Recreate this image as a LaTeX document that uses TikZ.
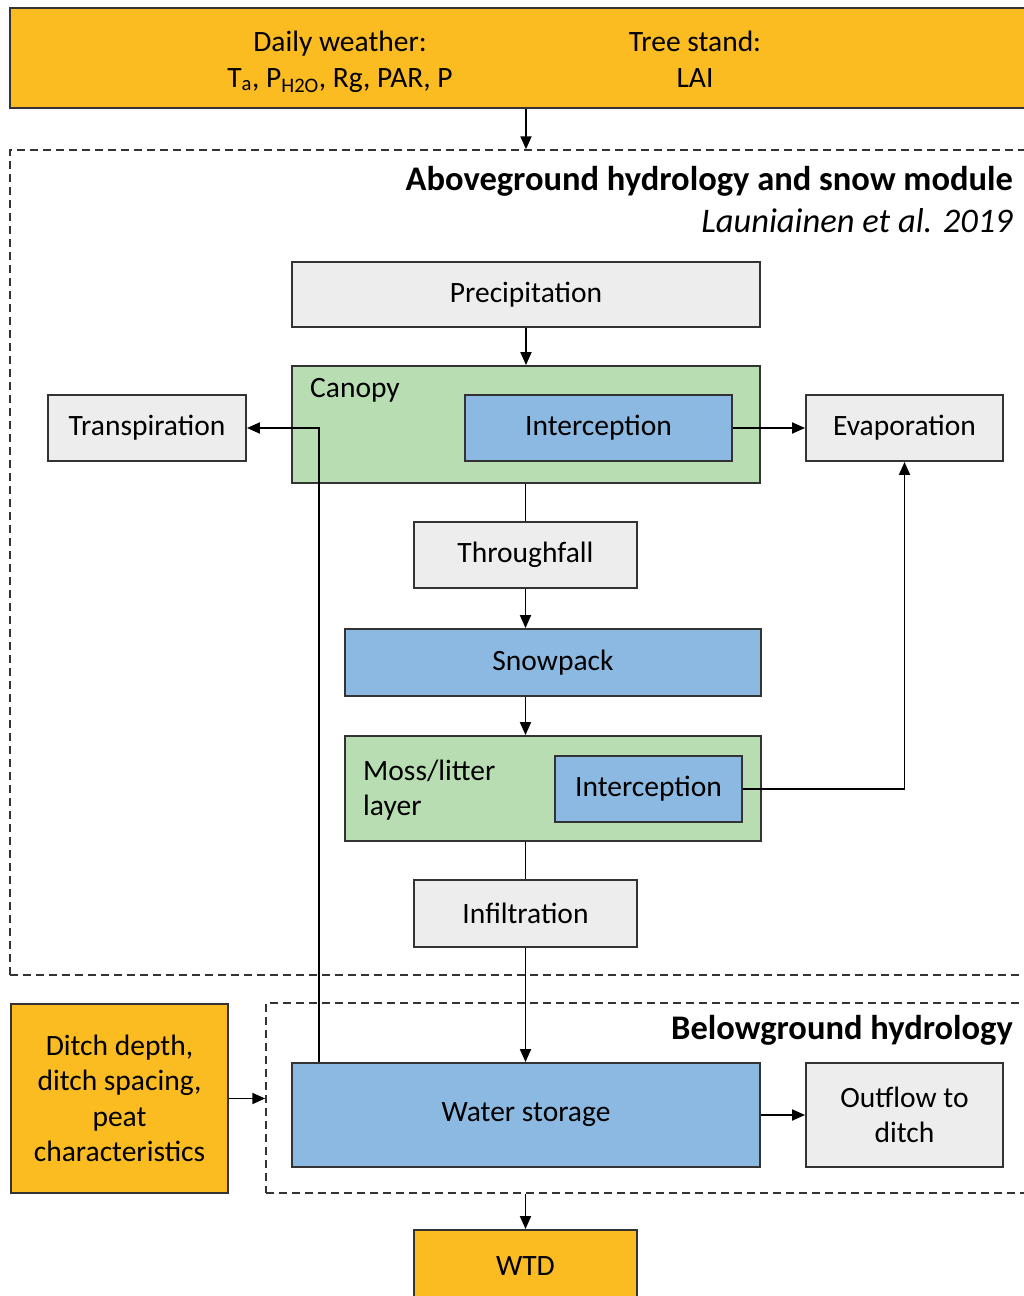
\documentclass[tikz,border=0pt]{standalone}
\usepackage{fontspec}
\setmainfont{Carlito}
\usetikzlibrary{arrows.meta,positioning}
\definecolor{inp}{HTML}{FBBC22}
\definecolor{flx}{HTML}{EDEDED}
\definecolor{lay}{HTML}{B8DDB3}
\definecolor{sto}{HTML}{8BB9E1}
\tikzset{
  box/.style={draw=black!80,line width=1.9pt,inner sep=0pt,align=center,font=\fontsize{29.5}{35.5}\selectfont},
  fluxbox/.style={box,fill=flx},
  layerbox/.style={box,fill=lay},
  storebox/.style={box,fill=sto},
  inputbox/.style={box,fill=inp},
  modbox/.style={draw=black!80,line width=1.5pt,dash pattern=on 8pt off 5pt,inner sep=0pt},
  arr/.style={-{Triangle[length=13pt,width=11pt]},line width=1.9pt},
  ln/.style={line width=1.9pt},
  lbl/.style={inner sep=0pt,font=\fontsize{29.5}{35.5}\selectfont},
  ttlbold/.style={inner sep=0pt,anchor=east,font=\fontsize{34.5}{40}\selectfont\bfseries},
  ttlital/.style={inner sep=0pt,anchor=east,font=\fontsize{34.5}{40}\selectfont\itshape},
}

\begin{document}
\begin{tikzpicture}[x=1pt,y=-1pt]
\useasboundingbox (0,0) rectangle (1024,1296);
\clip (0,0) rectangle (1024,1296);

% inputs on top
\node[inputbox,minimum width=1020pt,minimum height=100pt] (top) at (520,58) {};
\node[lbl,align=center,anchor=north] (weather) at (340,31) {Daily weather:\\T\textsubscript{a}, P\textsubscript{H2O}, Rg, PAR, P};
\node[lbl,align=center,anchor=north] (stand) at (695,31) {Tree stand:\\LAI};

% module frames
\node[modbox,minimum width=1025pt,minimum height=825pt] (above) at (522.5,562.5) {};
\node[modbox,minimum width=769pt,minimum height=190pt] (below) at (650.5,1098) {};
\node[ttlbold] (abovettl) at (1013,181) {Aboveground hydrology and snow module};
\node[ttlital] (aboveref) at (1013,221) {Launiainen et al. 2019};
\node[ttlbold] (belowttl) at (1013,1030) {Belowground hydrology};

% aboveground
\node[fluxbox,minimum width=468pt,minimum height=65pt] (prec) at (526,294.5) {Precipitation};
\node[layerbox,minimum width=468pt,minimum height=117pt] (canopy) at (526,424.5) {};
\node[lbl,anchor=west] (canopylbl) at (310,390) {Canopy};
\node[storebox,minimum width=267pt,minimum height=66pt] (canint) at (598.5,428) {Interception};
\node[fluxbox,minimum width=198pt,minimum height=66pt] (trans) at (147,428) {Transpiration};
\node[fluxbox,minimum width=197pt,minimum height=66pt] (evap) at (904.5,428) {Evaporation};
\node[fluxbox,minimum width=223pt,minimum height=66pt] (thr) at (525.5,555) {Throughfall};
\node[storebox,minimum width=416pt,minimum height=67pt] (snow) at (553,662.5) {Snowpack};
\node[layerbox,minimum width=416pt,minimum height=105pt] (moss) at (553,788.5) {};
\node[lbl,anchor=west,align=left] (mosslbl) at (363,790) {Moss/litter\\layer};
\node[storebox,minimum width=187pt,minimum height=66pt] (mossint) at (648.5,789) {Interception};
\node[fluxbox,minimum width=223pt,minimum height=67pt] (infil) at (525.5,913.5) {Infiltration};

% belowground
\node[inputbox,minimum width=217pt,minimum height=189pt] (ditch) at (119.5,1098.5) {Ditch depth,\\ditch spacing,\\peat\\characteristics};
\node[storebox,minimum width=468pt,minimum height=104pt] (water) at (526,1115) {Water storage};
\node[fluxbox,minimum width=197pt,minimum height=104pt] (out) at (904.5,1115) {Outflow to\\ditch};
\node[inputbox,minimum width=223pt,minimum height=72pt] (wtd) at (525.5,1266) {WTD};

% connectors
\draw[arr] (prec.north |- top.south) -- (prec.north |- above.north);
\draw[arr] (prec.south) -- (canopy.north);
\draw[arr] (canint.east) -- (evap.west);
\draw[ln] (thr.north |- canopy.south) -- (thr.north);
\draw[arr] (thr.south) -- (thr.south |- snow.north);
\draw[arr] (thr.south |- snow.south) -- (thr.south |- moss.north);
\draw[ln] (infil.north |- moss.south) -- (infil.north);
\draw[arr] (mossint.east) -| (evap.south);
\draw[arr] (infil.south) -- (infil.south |- water.north);
\draw[arr] (water.north west) ++(28,0) |- (trans.east);
\draw[arr] (ditch.east) -- (ditch.east -| below.west);
\draw[arr] (water.east) -- (water.east -| out.west);
\draw[arr] (wtd.north |- below.south) -- (wtd.north);
\end{tikzpicture}
\end{document}
